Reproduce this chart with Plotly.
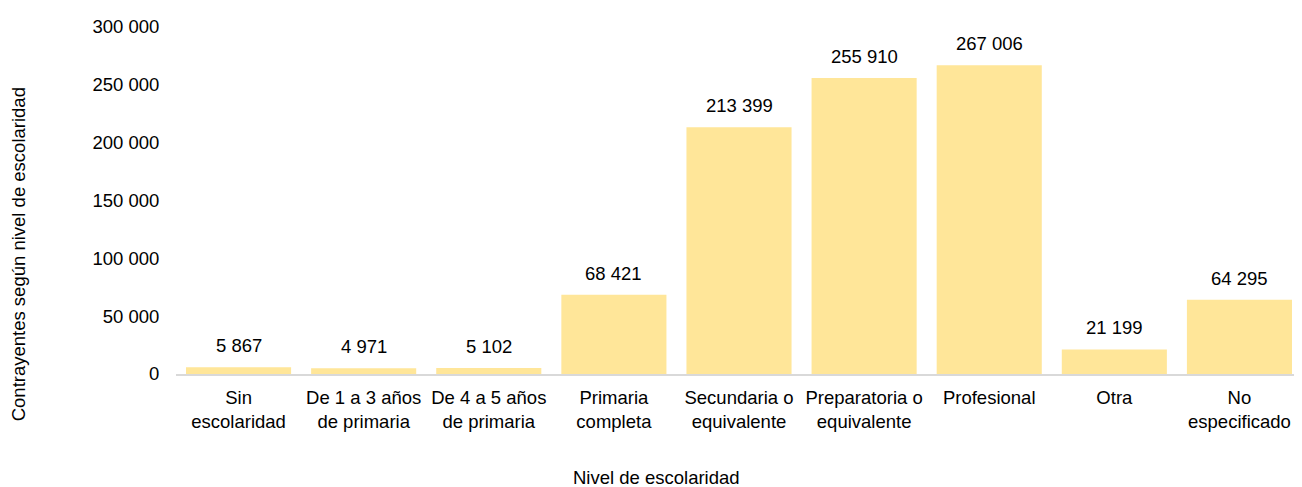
import plotly.graph_objects as go

categorias = ["Sin<br>escolaridad", "De 1 a 3 años<br>de primaria", "De 4 a 5 años<br>de primaria",
              "Primaria<br>completa", "Secundaria o<br>equivalente", "Preparatoria o<br>equivalente",
              "Profesional", "Otra", "No<br>especificado"]
contrayentes = [5867, 4971, 5102, 68421, 213399, 255910, 267006, 21199, 64295]
ticks_y = [0, 50000, 100000, 150000, 200000, 250000, 300000]

fuente = "Liberation Sans, Arial, sans-serif"
tam = 18.5

fig = go.Figure()
fig.add_trace(go.Bar(
    x=categorias,
    y=contrayentes,
    marker=dict(color="#FFE699", line=dict(width=0)),
    hoverinfo="x+y",
))

# etiquetas de datos encima de cada barra
for cat, val in zip(categorias, contrayentes):
    fig.add_annotation(
        x=cat, y=val, text=f"{val:,}".replace(",", " "),
        showarrow=False, yanchor="bottom", yshift=9,
        font=dict(size=tam, color="#000000", family=fuente),
    )

fig.add_annotation(
    xref="paper", yref="paper", x=-0.1403, y=0.345,
    xanchor="center", yanchor="middle",
    text="Contrayentes según nivel de escolaridad", textangle=-90,
    showarrow=False, font=dict(size=tam, color="#000000", family=fuente),
)
fig.add_annotation(
    xref="paper", yref="paper", x=0.427, y=-0.2994,
    xanchor="center", yanchor="middle",
    text="Nivel de escolaridad",
    showarrow=False, font=dict(size=tam, color="#000000", family=fuente),
)

fig.update_layout(
    width=1302, height=487,
    margin=dict(l=168, r=8, t=13, b=121),
    plot_bgcolor="white", paper_bgcolor="white",
    bargap=0.16,
    separators=", ",
    showlegend=False,
    font=dict(family=fuente, size=tam, color="#000000"),
)
fig.update_xaxes(
    showline=True, linecolor="#D9D9D9", linewidth=2,
    showgrid=False, ticks="outside", ticklen=6, tickcolor="rgba(0,0,0,0)",
    tickfont=dict(size=tam),
)
fig.update_yaxes(
    range=[0, 300000], tickvals=ticks_y, tickformat=",d",
    showgrid=False, zeroline=False, showline=False,
    ticks="outside", ticklen=12, tickcolor="rgba(0,0,0,0)",
    tickfont=dict(size=tam),
)

fig.write_html("out.html")
